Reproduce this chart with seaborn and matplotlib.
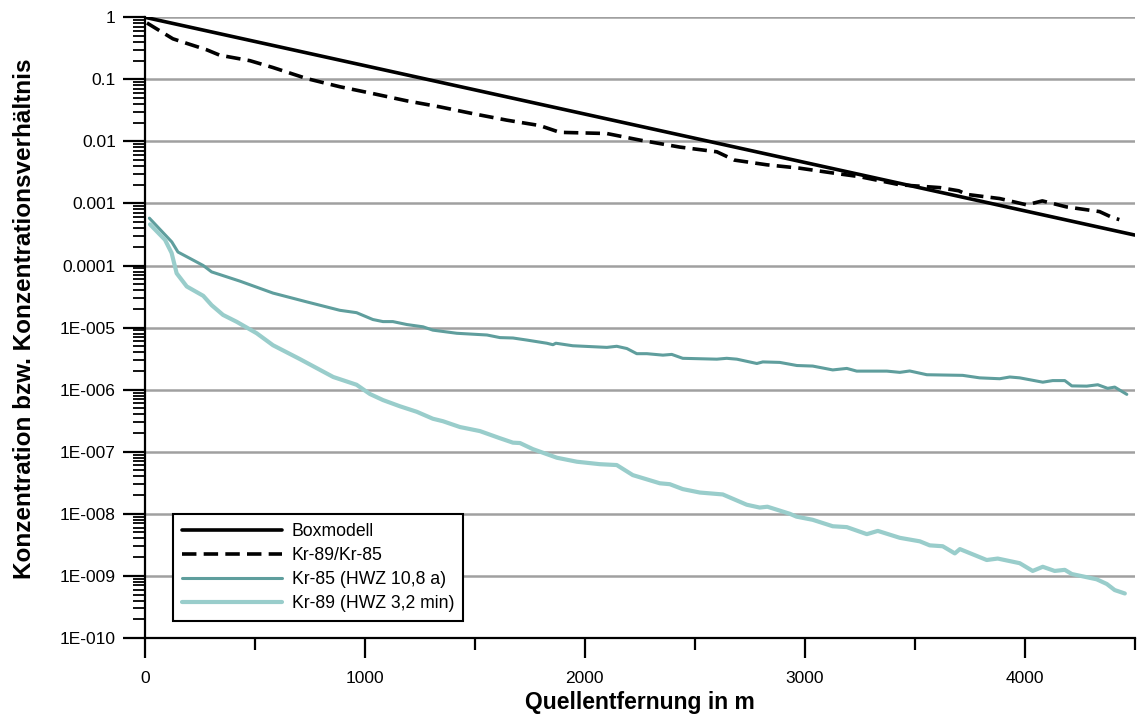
import numpy as np
import pandas as pd
import matplotlib
matplotlib.use("Agg")
import matplotlib.pyplot as plt
import seaborn as sns
from matplotlib.ticker import FixedLocator, LogLocator, NullFormatter

# ---- data ----
box_x = [0, 4500]
box_y = [1.0, 3.1e-4]

ratio_x = [9, 127, 190, 280, 340, 477, 582, 735, 886, 1036, 1191, 1341, 1491, 1645,
           1795, 1886, 2100, 2250, 2432, 2600, 2680, 2827, 2977, 3127, 3250, 3432,
           3614, 3700, 3736, 3886, 4009, 4080, 4190, 4340, 4400, 4430]
ratio_y = [0.81, 0.45, 0.38, 0.30, 0.245, 0.20, 0.155, 0.103, 0.076, 0.059, 0.045,
           0.036, 0.028, 0.022, 0.018, 0.014, 0.0134, 0.0105, 0.0081, 0.0068, 0.005,
           0.0042, 0.0037, 0.0031, 0.0027, 0.0020, 0.0018, 0.0016, 0.0014, 0.0012,
           0.00095, 0.0011, 0.00088, 0.00074, 0.00059, 0.00055]

kr85_x = [20, 122, 150, 205, 265, 303, 432, 582, 735, 886, 962, 1036, 1082, 1127,
          1191, 1264, 1309, 1418, 1555, 1614, 1673, 1736, 1827, 1855, 1868, 1945,
          2100, 2145, 2191, 2236, 2282, 2355, 2395, 2445, 2600, 2645, 2691, 2782,
          2809, 2886, 2964, 3036, 3127, 3191, 3236, 3373, 3432, 3477, 3555, 3718,
          3795, 3886, 3932, 3977, 4082, 4127, 4182, 4214, 4282, 4332, 4377, 4409, 4464]
kr85_y = [5.8e-4, 2.4e-4, 1.65e-4, 1.3e-4, 1.0e-4, 7.9e-5, 5.6e-5, 3.6e-5, 2.6e-5,
          1.9e-5, 1.74e-5, 1.35e-5, 1.25e-5, 1.25e-5, 1.12e-5, 1.03e-5, 9.1e-6,
          8.1e-6, 7.6e-6, 6.9e-6, 6.8e-6, 6.3e-6, 5.6e-6, 5.3e-6, 5.6e-6, 5.1e-6,
          4.8e-6, 5.0e-6, 4.6e-6, 3.8e-6, 3.8e-6, 3.6e-6, 3.7e-6, 3.2e-6, 3.1e-6,
          3.2e-6, 3.1e-6, 2.64e-6, 2.8e-6, 2.75e-6, 2.45e-6, 2.4e-6, 2.08e-6, 2.2e-6,
          1.99e-6, 1.99e-6, 1.9e-6, 2.0e-6, 1.74e-6, 1.7e-6, 1.55e-6, 1.5e-6, 1.6e-6,
          1.55e-6, 1.32e-6, 1.4e-6, 1.4e-6, 1.15e-6, 1.14e-6, 1.2e-6, 1.05e-6, 1.1e-6,
          8.4e-7]

kr89_x = [23, 91, 121, 144, 190, 265, 303, 355, 417, 508, 582, 705, 856, 962, 1023,
          1082, 1159, 1236, 1309, 1355, 1432, 1523, 1614, 1673, 1705, 1764, 1873,
          1964, 2068, 2145, 2218, 2341, 2386, 2445, 2523, 2627, 2736, 2795, 2830,
          2932, 2962, 3036, 3127, 3191, 3282, 3332, 3432, 3523, 3568, 3627, 3682,
          3705, 3827, 3877, 3977, 4036, 4082, 4136, 4182, 4214, 4327, 4373, 4409, 4455]
kr89_y = [4.6e-4, 2.6e-4, 1.6e-4, 7.5e-5, 4.6e-5, 3.25e-5, 2.3e-5, 1.6e-5, 1.24e-5,
          8.1e-6, 5.2e-6, 3.1e-6, 1.6e-6, 1.2e-6, 8.5e-7, 6.8e-7, 5.4e-7, 4.4e-7,
          3.4e-7, 3.1e-7, 2.5e-7, 2.15e-7, 1.65e-7, 1.4e-7, 1.38e-7, 1.1e-7, 8.0e-8,
          6.9e-8, 6.3e-8, 6.1e-8, 4.2e-8, 3.1e-8, 3.0e-8, 2.5e-8, 2.2e-8, 2.05e-8,
          1.4e-8, 1.26e-8, 1.3e-8, 1.0e-8, 9e-9, 8e-9, 6.3e-9, 6.1e-9, 4.7e-9, 5.3e-9,
          4.1e-9, 3.6e-9, 3.1e-9, 3.0e-9, 2.3e-9, 2.7e-9, 1.8e-9, 1.9e-9, 1.6e-9,
          1.2e-9, 1.4e-9, 1.2e-9, 1.25e-9, 1.07e-9, 8.8e-10, 7.4e-10, 5.9e-10, 5.2e-10]

series_names = ["Boxmodell", "Kr-89/Kr-85", "Kr-85 (HWZ 10,8 a)", "Kr-89 (HWZ 3,2 min)"]
y_tick_values = [1, 0.1, 0.01, 0.001, 1e-4, 1e-5, 1e-6, 1e-7, 1e-8, 1e-9, 1e-10]
y_tick_labels = ["1", "0.1", "0.01", "0.001", "0.0001", "1E-005", "1E-006", "1E-007",
                 "1E-008", "1E-009", "1E-010"]
x_tick_values = [0, 1000, 2000, 3000, 4000]
x_tick_labels = ["0", "1000", "2000", "3000", "4000"]

x_label = "Quellentfernung in m"
y_label = "Konzentration bzw. Konzentrationsverhältnis"

# ---- plotting ----
sns.set_style("white")
plt.rcParams['font.family'] = ['Liberation Sans', 'DejaVu Sans']
plt.rcParams['text.color'] = 'black'
plt.rcParams['axes.labelcolor'] = 'black'
plt.rcParams['xtick.color'] = 'black'
plt.rcParams['ytick.color'] = 'black'

fig = plt.figure(figsize=(11.37, 7.2), dpi=100)
ax = fig.add_axes([0.1275, 0.114, 0.8705, 0.862])

styles = {
    series_names[0]: dict(color="black", linewidth=2.6),
    series_names[1]: dict(color="black", linewidth=2.6, dashes=(4, 2)),
    series_names[2]: dict(color="#5f9e9d", linewidth=2.2),
    series_names[3]: dict(color="#99cdcb", linewidth=3.0),
}
data = [(box_x, box_y), (ratio_x, ratio_y), (kr85_x, kr85_y), (kr89_x, kr89_y)]
for name, (xs, ys) in zip(series_names, data):
    st = dict(styles[name])
    dashes = st.pop("dashes", None)
    sns.lineplot(x=xs, y=ys, ax=ax, label=name, estimator=None, sort=False, **st)
    if dashes is not None:
        ax.lines[-1].set_dashes(dashes)
        ax.lines[-1].set_dash_capstyle("butt")

ax.set_yscale("log")
ax.set_ylim(1e-10, 1)
ax.set_xlim(0, 4500)

ax.yaxis.set_major_locator(FixedLocator(y_tick_values))
ax.set_yticklabels(y_tick_labels, fontsize=12.5, color="black")
ax.yaxis.set_minor_locator(LogLocator(base=10, subs=np.arange(2, 10), numticks=20))
ax.yaxis.set_minor_formatter(NullFormatter())

ax.set_xticks(x_tick_values)
ax.set_xticklabels(x_tick_labels, fontsize=12.5, color="black")
ax.set_xticks([500, 1500, 2500, 3500, 4500], minor=True)

ax.tick_params(axis="both", which="both", bottom=True, left=True, top=False, right=False)
ax.tick_params(axis="y", which="major", direction="out", length=16, width=1.6,
               color="black", labelcolor="black", pad=5)
ax.tick_params(axis="x", which="major", direction="out", length=14.5, width=1.6,
               color="black", labelcolor="black", pad=9)
ax.tick_params(axis="y", which="minor", direction="out", length=8.5, width=1.3,
               color="black")
ax.tick_params(axis="x", which="minor", direction="out", length=8.5, width=1.6,
               color="black")

ax.grid(True, which="major", axis="y", color="#a0a0a0", linewidth=1.8)
ax.grid(False, which="minor")
ax.grid(False, axis="x")
ax.set_axisbelow(True)

for s in ["top", "right"]:
    ax.spines[s].set_visible(False)
for s in ["left", "bottom"]:
    ax.spines[s].set_color("black")
    ax.spines[s].set_linewidth(1.6)

ax.set_xlabel(x_label, fontsize=16.5, fontweight="bold", color="black")
ax.xaxis.set_label_coords(0.5, -0.086)
ax.set_ylabel(y_label, fontsize=17.5, fontweight="bold", color="black")
ax.yaxis.set_label_coords(-0.110, 0.514)

leg = ax.legend(loc="lower left", bbox_to_anchor=(0.028, 0.027), borderaxespad=0,
                fontsize=12.7, frameon=True, fancybox=False, handlelength=5.7,
                handletextpad=0.55, labelspacing=0.4, borderpad=0.5,
                labelcolor="black")
leg.get_frame().set_edgecolor("black")
leg.get_frame().set_linewidth(1.5)
leg.get_frame().set_alpha(1)

fig.savefig("out.png", dpi=100)
